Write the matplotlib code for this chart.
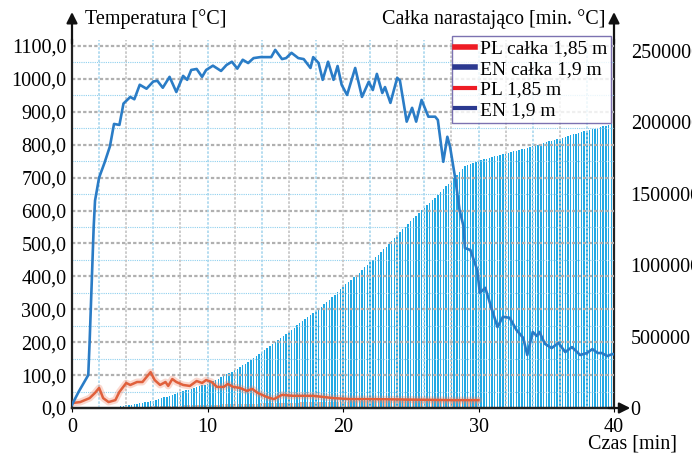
import numpy as np
import matplotlib
matplotlib.use("Agg")
import matplotlib.pyplot as plt
from matplotlib.lines import Line2D
from matplotlib.ticker import FuncFormatter, MultipleLocator

plt.rcParams['font.family'] = ['Liberation Serif', 'DejaVu Serif']

# EN 1,9 m temperature [°C]
en_t = [0, 0.5, 1.2, 1.3, 1.6, 1.7, 2.0, 2.4, 2.8, 3.1, 3.5, 3.8, 4.3, 4.6, 5.0, 5.5,
        6.0, 6.3, 6.7, 7.2, 7.7, 8.2, 8.5, 8.8, 9.2, 9.6, 9.9, 10.4, 11.0, 11.4, 11.8,
        12.2, 12.6, 13.0, 13.4, 13.9, 14.4, 14.7, 15.0, 15.5, 15.8, 16.2, 16.7, 17.1,
        17.6, 17.8, 18.2, 18.5, 18.9, 19.3, 19.6, 19.9, 20.3, 20.9, 21.4, 21.9, 22.2,
        22.5, 22.9, 23.1, 23.5, 24.0, 24.2, 24.7, 25.1, 25.4, 25.8, 26.3, 26.8, 27.0,
        27.4, 27.7, 27.9, 28.3, 28.6, 28.9, 29.0, 29.4, 29.9, 30.1, 30.5, 31.0, 31.4,
        31.8, 32.3, 32.8, 33.3, 33.6, 34.0, 34.3, 34.5, 34.9, 35.4, 35.9, 36.4, 36.9,
        37.5, 38.0, 38.4, 38.8, 39.1, 39.5, 39.9, 40.0]
en_temp = [10, 50, 100, 200, 550, 630, 700, 745, 795, 863, 860, 925, 945, 938, 982, 970,
           992, 994, 973, 1006, 960, 1009, 997, 1027, 1030, 1006, 1027, 1040, 1024, 1042, 1052,
           1031, 1058, 1048, 1063, 1066, 1066, 1066, 1088, 1060, 1063, 1079, 1063, 1060,
           1033, 1066, 1048, 997, 1052, 997, 1039, 982, 951, 1033, 945, 991, 966,
           1015, 957, 975, 927, 1003, 995, 870, 912, 870, 936, 885, 885, 875,
           748, 824, 794, 693, 602, 551, 486, 480, 420, 350, 365, 298, 246,
           277, 274, 237, 213, 161, 231, 219, 231, 195, 182, 198, 170, 185,
           161, 167, 179, 167, 167, 158, 164, 163]

# PL 1,85 m temperature [°C]
pl_t = [0, 0.6, 1.3, 1.7, 2.0, 2.3, 2.7, 3.2, 3.5, 4.0, 4.3, 4.8, 5.2, 5.8, 6.1, 6.5,
        6.9, 7.1, 7.4, 7.7, 8.2, 8.7, 9.2, 9.6, 9.9, 10.3, 10.7, 11.2, 11.5, 11.9, 12.4,
        12.9, 13.3, 13.7, 14.4, 14.9, 15.5, 16.3, 17.8, 19.3, 20.5, 22, 24, 26, 28, 30]
pl_temp = [15, 18, 30, 46, 61, 30, 18, 24, 49, 76, 70, 79, 79, 109, 85, 70,
           79, 67, 88, 79, 70, 67, 82, 76, 85, 79, 64, 64, 73, 64, 61,
           52, 58, 46, 33, 27, 40, 37, 37, 30, 27, 27, 26, 25, 24, 24]

# cumulative integral, EN 1,9 m, bars every 0,2 min (thousands)
en_int_k = [0, 0, 0, 0, 0,
            0, 0, 0, 0, 0,
            0, 0.5, 1, 2, 4,
            6, 9, 11, 14, 18,
            21, 24, 27, 30, 33,
            37, 41, 44, 48, 52,
            57, 63, 69, 74, 80,
            86, 93, 99, 106, 112,
            118, 123, 129, 134, 140,
            146, 152, 158, 164, 170,
            179, 188, 197, 206, 215,
            225, 235, 245, 255, 265,
            276, 287, 298, 309, 320,
            334, 348, 362, 376, 390,
            404, 418, 432, 446, 460,
            474, 488, 502, 516, 530,
            546, 562, 578, 594, 610,
            624, 638, 652, 666, 680,
            695, 710, 725, 740, 755,
            774, 793, 812, 831, 850,
            866, 882, 898, 914, 930,
            948, 966, 984, 1002, 1020,
            1038, 1056, 1074, 1092, 1110,
            1130, 1150, 1170, 1190, 1210,
            1230, 1250, 1270, 1290, 1310,
            1328, 1346, 1364, 1382, 1400,
            1418, 1436, 1454, 1472, 1490,
            1510, 1530, 1550, 1570, 1590,
            1610, 1630, 1650, 1670, 1690,
            1698, 1706, 1714, 1722, 1730,
            1735, 1740, 1745, 1750, 1755,
            1760, 1765, 1770, 1775, 1780,
            1785, 1790, 1795, 1800, 1805,
            1810, 1815, 1820, 1825, 1830,
            1836, 1842, 1848, 1854, 1860,
            1865, 1870, 1875, 1880, 1885,
            1891, 1897, 1903, 1909, 1915,
            1920, 1925, 1930, 1935, 1940,
            1945, 1950, 1955, 1960, 1965,
            1970, 1975, 1980, 1985, 1990]

# cumulative integral, PL 1,85 m, bars every 0,2 min up to 30 min (thousands)
pl_int_k = [0, 0, 1, 1, 1,
            1, 2, 2, 2, 3,
            3, 3, 3, 4, 4,
            4, 5, 5, 5, 6,
            6, 7, 7, 8, 8,
            9, 9, 10, 10, 11,
            11, 12, 12, 13, 14,
            14, 15, 15, 16, 17,
            17, 18, 18, 19, 19,
            20, 20, 21, 21, 22,
            22, 23, 23, 24, 24,
            25, 25, 26, 26, 27,
            27, 28, 28, 29, 29,
            30, 30, 31, 31, 32,
            32, 33, 33, 34, 34,
            35, 35, 36, 36, 37,
            37, 37, 38, 38, 39,
            39, 39, 40, 40, 41,
            41, 41, 42, 42, 43,
            43, 43, 44, 44, 45,
            45, 45, 46, 46, 47,
            47, 47, 48, 48, 48,
            49, 49, 49, 50, 50,
            50, 51, 51, 51, 52,
            52, 52, 53, 53, 53,
            54, 54, 54, 55, 55,
            55, 55, 56, 56, 56,
            56, 57, 57, 57, 57,
            58, 58, 58, 58, 59,
            59, 59, 59, 60, 60]

legend_labels = ["PL całka 1,85 m", "EN całka 1,9 m", "PL 1,85 m", "EN 1,9 m"]

W, H = 692, 455
fig = plt.figure(figsize=(W / 100, H / 100), dpi=100)
# axes box in pixels: x 72..614, y 40..408
ax = fig.add_axes([72 / W, (H - 408) / H, 542 / W, 368 / H])
ax2 = ax.twinx()

# grid on the temperature axis
ax.set_xlim(0, 40)
ax.set_ylim(0, 1118)
for v in np.arange(50, 1101, 100):
    ax.axhline(v, color='#8fd0ee', lw=0.8, ls=(0, (1, 1)), zorder=0)
for v in np.arange(100, 1101, 100):
    ax.axhline(v, color='#b0b0b0', lw=1.6, ls=(0, (1.5, 1)), zorder=0)
for v in np.arange(2, 40, 2):
    c = '#a9d7ee' if v % 4 else '#c4c4c4'
    ax.axvline(v, color=c, lw=1.2, ls=(0, (1.5, 1)), zorder=0)

# bars on the right axis
bar_x = np.arange(1, len(en_int_k) + 1) * 0.2
ax2.bar(bar_x, np.array(en_int_k) * 1000, width=0.105, color='#22a9e4', linewidth=0, zorder=1)
pl_x = np.arange(1, len(pl_int_k) + 1) * 0.2 - 0.1
ax2.bar(pl_x, np.array(pl_int_k) * 1000, width=0.08, color='#f2b49a', linewidth=0, zorder=1)
ax2.set_ylim(0, 2575000)
ax2.set_xlim(0, 40)

# temperature lines drawn on top
ax.set_zorder(ax2.get_zorder() + 1)
ax.patch.set_visible(False)
ax.plot(pl_t, pl_temp, color='#f08060', lw=5, alpha=0.3, solid_capstyle='round', zorder=3)
ax.plot(pl_t, pl_temp, color='#e0603c', lw=1.8, zorder=4)
ax.plot(en_t, en_temp, color='#2a7cc6', lw=1.9, zorder=5)

fmt = FuncFormatter(lambda v, p: f"{v:.1f}".replace('.', ','))
ax.yaxis.set_major_locator(MultipleLocator(100))
ax.yaxis.set_major_formatter(fmt)
ax.xaxis.set_major_locator(MultipleLocator(10))
ax.set_yticks(np.arange(0, 1101, 100))
ax2.set_yticks([0, 500000, 1000000, 1500000, 2000000, 2500000])
ax2.yaxis.set_major_formatter(FuncFormatter(lambda v, p: f"{int(v)}"))

ax.tick_params(axis='y', labelsize=14.5, length=0, pad=4)
ax.tick_params(axis='x', labelsize=14.5, length=3, pad=4, direction='out')
ax2.tick_params(axis='y', labelsize=14.5, length=0, pad=12)

for a in (ax, ax2):
    a.spines['top'].set_visible(False)
    for s in ('left', 'right', 'bottom'):
        a.spines[s].set_color('#222222')
        a.spines[s].set_linewidth(1.6)
ax.spines['right'].set_visible(False)
ax2.spines['left'].set_visible(False)

# axis arrows
arrow = dict(arrowstyle='-|>', color='#111111', lw=1.6, mutation_scale=16, shrinkA=0, shrinkB=0)
ax.annotate('', xy=(0, 1.076), xytext=(0, 0.99), xycoords='axes fraction', arrowprops=arrow, annotation_clip=False)
ax.annotate('', xy=(1, 1.076), xytext=(1, 0.99), xycoords='axes fraction', arrowprops=arrow, annotation_clip=False)
ax.annotate('', xy=(1.03, 0), xytext=(0.99, 0), xycoords='axes fraction', arrowprops=arrow, annotation_clip=False)

fig.text(85 / W, 1 - 19 / H, "Temperatura [°C]", fontsize=14.5, ha='left', va='center')
fig.text(605 / W, 1 - 19 / H, "Całka narastająco [min. °C]", fontsize=14.5, ha='right', va='center')
fig.text(588 / W, 1 - 444 / H, "Czas [min]", fontsize=14.5, ha='left', va='center')

handles = [Line2D([], [], color='#ee1c25', lw=4),
           Line2D([], [], color='#2b3990', lw=4),
           Line2D([], [], color='#ee1c25', lw=3),
           Line2D([], [], color='#2b3990', lw=3)]
leg = ax.legend(handles, legend_labels, loc='upper right', bbox_to_anchor=(611 / W, 1 - 36 / H),
                bbox_transform=fig.transFigure, fontsize=14, frameon=True, fancybox=False,
                handlelength=1.0, handletextpad=0.25, labelspacing=0.15, borderpad=0.2,
                borderaxespad=0)
leg.get_frame().set_edgecolor('#5b4f9e')
leg.get_frame().set_linewidth(1.0)
leg.set_zorder(10)

fig.savefig("out.png", dpi=100)
